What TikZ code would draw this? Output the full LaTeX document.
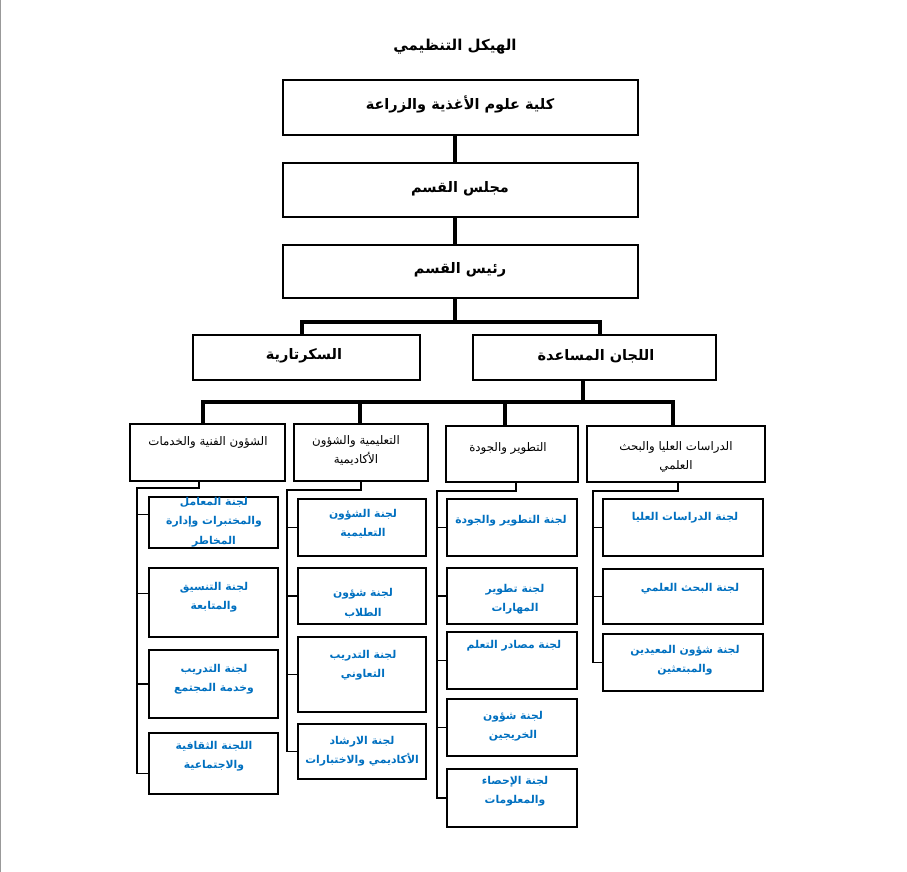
\documentclass[tikz,border=0pt]{standalone}
\usepackage{fontspec}
\setmainfont{DejaVu Sans}
\newfontfamily\arf[Script=Arabic]{DejaVu Sans}
\TeXXeTstate=1
\newcommand\AR[1]{\beginR #1\endR}
\definecolor{blu}{HTML}{0070C0}
\newcommand\mkbox[6]{\node[#1, minimum width={(#5-#3)*1pt}, minimum height={(#6-#4)*1pt}] (#2) at ({(#3+#5)/2},{(#4+#6)/2}) {};}
\tikzset{
  bigbox/.style={draw, line width=2.6pt, inner sep=0pt, outer sep=0pt},
  midbox/.style={draw, line width=2pt, inner sep=0pt, outer sep=0pt},
  subbox/.style={draw, line width=1.8pt, inner sep=0pt, outer sep=0pt},
  bigtxt/.style={inner sep=0pt, align=center, font=\arf\bfseries\fontsize{14.5}{18}\selectfont},
  titletxt/.style={inner sep=0pt, align=center, font=\arf\bfseries\fontsize{15}{18}\selectfont},
  headtxt/.style={inner sep=0pt, align=center, font=\arf\fontsize{11.8}{19}\selectfont},
  subtxt/.style={inner sep=0pt, align=center, text=blu, font=\arf\bfseries\fontsize{10.8}{19.5}\selectfont},
  bigcon/.style={line width=4.6pt},
  midcon/.style={line width=3.6pt},
  comb/.style={line width=1.3pt},
}
\begin{document}
\begin{tikzpicture}[x=1pt,y=-1pt]
\useasboundingbox (0,0) rectangle (907,872);
\fill[white] (0,0) rectangle (907,872);
\draw[gray!80, line width=1.2pt] (0.6,0) -- (0.6,872);

% title
\node[titletxt] (title) at (455,47) {\AR{الهيكل التنظيمي}};

% top boxes
\mkbox{bigbox}{b1}{283}{80}{638}{135}
\mkbox{bigbox}{b2}{283}{163}{638}{217}
\mkbox{bigbox}{b3}{283}{245}{638}{298}
\node[bigtxt] (t1) at (460,104) {\AR{كلية علوم الأغذية والزراعة}};
\node[bigtxt] (t2) at (460,189) {\AR{مجلس القسم}};
\node[bigtxt] (t3) at (460,270) {\AR{رئيس القسم}};

% second level
\mkbox{bigbox}{sec}{193}{335}{420}{380}
\mkbox{bigbox}{aux}{473}{335}{716}{380}
\node[bigtxt] (tsec) at (304,356) {\AR{السكرتارية}};
\node[bigtxt] (taux) at (596,356) {\AR{اللجان المساعدة}};

% third level
\mkbox{midbox}{h1}{130}{424}{285}{481}
\mkbox{midbox}{h2}{294}{424}{428}{481}
\mkbox{midbox}{h3}{446}{426}{578}{482}
\mkbox{midbox}{h4}{587}{426}{765}{482}
\node[headtxt] (th1) at (208,442) {\AR{الشؤون الفنية والخدمات}};
\node[headtxt] (th2) at (356,450) {\AR{التعليمية والشؤون}\\\AR{الأكاديمية}};
\node[headtxt] (th3) at (508,448) {\AR{التطوير والجودة}};
\node[headtxt] (th4) at (676,457) {\AR{الدراسات العليا والبحث}\\\AR{العلمي}};

% sub boxes column 1
\mkbox{subbox}{s1a}{149}{497}{278}{548}
\mkbox{subbox}{s1b}{149}{568}{278}{637}
\mkbox{subbox}{s1c}{149}{650}{278}{718}
\mkbox{subbox}{s1d}{149}{733}{278}{794}
\node[subtxt] (u1a) at (214,522) {\AR{لجنة المعامل}\\\AR{والمختبرات وإدارة}\\\AR{المخاطر}};
\node[subtxt] (u1b) at (214,597) {\AR{لجنة التنسيق}\\\AR{والمتابعة}};
\node[subtxt] (u1c) at (214,679) {\AR{لجنة التدريب}\\\AR{وخدمة المجتمع}};
\node[subtxt] (u1d) at (214,756) {\AR{اللجنة الثقافية}\\\AR{والاجتماعية}};

% column 2
\mkbox{subbox}{s2a}{298}{499}{426}{556}
\mkbox{subbox}{s2b}{298}{568}{426}{624}
\mkbox{subbox}{s2c}{298}{637}{426}{712}
\mkbox{subbox}{s2d}{298}{724}{426}{779}
\node[subtxt] (u2a) at (363,524) {\AR{لجنة الشؤون}\\\AR{التعليمية}};
\node[subtxt] (u2b) at (363,603) {\AR{لجنة شؤون}\\\AR{الطلاب}};
\node[subtxt] (u2c) at (363,665) {\AR{لجنة التدريب}\\\AR{التعاوني}};
\node[subtxt] (u2d) at (362,751) {\AR{لجنة الارشاد}\\\AR{الأكاديمي والاختبارات}};

% column 3
\mkbox{subbox}{s3a}{447}{499}{577}{556}
\mkbox{subbox}{s3b}{447}{568}{577}{624}
\mkbox{subbox}{s3c}{447}{632}{577}{689}
\mkbox{subbox}{s3d}{447}{699}{577}{756}
\mkbox{subbox}{s3e}{447}{769}{577}{827}
\node[subtxt] (u3a) at (511,521) {\AR{لجنة التطوير والجودة}};
\node[subtxt] (u3b) at (515,599) {\AR{لجنة تطوير}\\\AR{المهارات}};
\node[subtxt] (u3c) at (514,646) {\AR{لجنة مصادر التعلم}};
\node[subtxt] (u3d) at (513,726) {\AR{لجنة شؤون}\\\AR{الخريجين}};
\node[subtxt] (u3e) at (515,791) {\AR{لجنة الإحصاء}\\\AR{والمعلومات}};

% column 4
\mkbox{subbox}{s4a}{603}{499}{763}{556}
\mkbox{subbox}{s4b}{603}{569}{763}{624}
\mkbox{subbox}{s4c}{603}{634}{763}{691}
\node[subtxt] (u4a) at (685,518) {\AR{لجنة الدراسات العليا}};
\node[subtxt] (u4b) at (690,589) {\AR{لجنة البحث العلمي}};
\node[subtxt] (u4c) at (685,660) {\AR{لجنة شؤون المعيدين}\\\AR{والمبتعثين}};

% connectors top
\coordinate (b1B) at ([xshift=-5.5pt]b1.south);
\coordinate (b2T) at ([xshift=-5.5pt]b2.north);
\coordinate (b2B) at ([xshift=-5.5pt]b2.south);
\coordinate (b3T) at ([xshift=-5.5pt]b3.north);
\coordinate (b3B) at ([xshift=-5.5pt]b3.south);
\draw[bigcon] (b1B) -- (b2T);
\draw[bigcon] (b2B) -- (b3T);
\coordinate (j1) at (b3B |- 0,322);
\draw[bigcon] (b3B) -- (j1);
\coordinate (secT) at ([xshift=-4.5pt]sec.north);
\coordinate (auxT) at ([xshift=5.5pt]aux.north);
\draw[bigcon] (secT) |- (j1) -| (auxT);

% connectors level 3
\coordinate (j2) at (583,402);
\coordinate (auxB) at ([xshift=-11.5pt]aux.south);
\coordinate (h1T) at ([xshift=-4.5pt]h1.north);
\coordinate (h2T) at ([xshift=-1pt]h2.north);
\coordinate (h3T) at ([xshift=-7pt]h3.north);
\coordinate (h4T) at ([xshift=-3pt]h4.north);
\draw[midcon] (auxB) -- (j2);
\draw[midcon] (h1T) |- (j2) -| (h4T);
\draw[midcon] (h2T) -- (h2T |- j2);
\draw[midcon] (h3T) -- (h3T |- j2);

% combs
\coordinate (k1) at (137,488);
\coordinate (h1B) at ([xshift=-8.5pt]h1.south);
\coordinate (p1a) at ([yshift=8pt]s1a.west);
\coordinate (p1b) at ([yshift=9pt]s1b.west);
\coordinate (p1d) at ([yshift=-10pt]s1d.west);
\draw[comb] (h1B) |- (k1) |- (p1d);
\draw[comb] (k1 |- p1a) -- (p1a);
\draw[comb] (k1 |- p1b) -- (p1b);
\draw[comb] (k1 |- s1c.west) -- (s1c.west);

\coordinate (k2) at (287,490);
\draw[comb] (h2.south) |- (k2) |- (s2d.west);
\draw[comb] (k2 |- s2a.west) -- (s2a.west);
\draw[comb] (k2 |- s2b.west) -- (s2b.west);
\draw[comb] (k2 |- s2c.west) -- (s2c.west);

\coordinate (k3) at (437,491);
\coordinate (h3B) at ([xshift=4pt]h3.south);
\draw[comb] (h3B) |- (k3) |- (s3e.west);
\draw[comb] (k3 |- s3a.west) -- (s3a.west);
\draw[comb] (k3 |- s3b.west) -- (s3b.west);
\draw[comb] (k3 |- s3c.west) -- (s3c.west);
\draw[comb] (k3 |- s3d.west) -- (s3d.west);

\coordinate (k4) at (593,491);
\coordinate (h4B) at ([xshift=2pt]h4.south);
\draw[comb] (h4B) |- (k4) |- (s4c.west);
\draw[comb] (k4 |- s4a.west) -- (s4a.west);
\draw[comb] (k4 |- s4b.west) -- (s4b.west);
\end{tikzpicture}
\end{document}
